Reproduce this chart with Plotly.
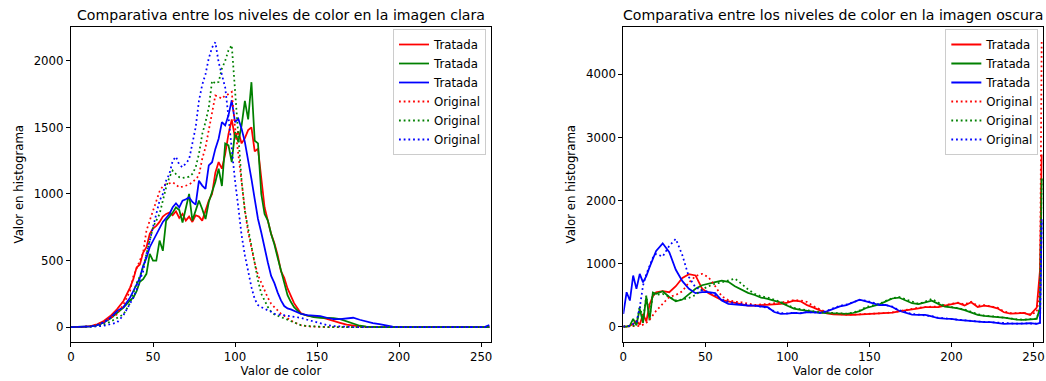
import plotly.graph_objects as go

# ---------------- data: "imagen clara" (left panel) ----------------
x_clara = ([0, 4, 8, 12, 16, 20, 24, 28, 32, 36]
           + list(range(38, 137, 2))
           + list(range(140, 253, 4))
           + [255])

clara_trat_r = ([0, 0, 2, 8, 20, 45, 83, 133, 196, 297]
                + [360, 447, 470, 560, 600, 700, 740, 760, 790, 830,
                   850, 860, 840, 870, 820, 850, 800, 830, 790, 840,
                   830, 800, 880, 950, 1000, 1160, 1240, 1190, 1300, 1450,
                   1560, 1420, 1470, 1380, 1420, 1480, 1500, 1320, 1340, 1100,
                   900, 800, 700, 630, 540, 420, 370, 290, 230, 180]
                + [105, 85, 78, 75, 62, 45, 32, 18, 10, 5, 2] + [0] * 18
                + [0])
clara_trat_g = ([0, 0, 1, 5, 15, 35, 65, 108, 146, 200]
                + [221, 270, 340, 360, 400, 550, 500, 500, 650, 573,
                   800, 830, 860, 900, 880, 786, 900, 1000, 800, 870,
                   950, 887, 812, 940, 1013, 1090, 1190, 1060, 1380, 1365,
                   1240, 1465, 1390, 1515, 1700, 1560, 1840, 1400, 1380, 1000,
                   850, 800, 700, 620, 520, 420, 320, 240, 190, 150]
                + [100, 85, 75, 70, 70, 68, 60, 42, 28, 10, 3] + [0] * 18
                + [0])
clara_trat_b = ([0, 0, 1, 5, 15, 35, 70, 120, 150, 221]
                + [270, 320, 370, 460, 520, 600, 650, 699, 750, 790,
                   820, 850, 900, 930, 900, 950, 960, 975, 940, 920,
                   1100, 1063, 1038, 1214, 1239, 1339, 1415, 1540, 1515, 1591,
                   1704, 1540, 1566, 1490, 1390, 1264, 1113, 962, 812, 711,
                   586, 485, 384, 330, 259, 200, 158, 140, 133, 120]
                + [100, 90, 85, 83, 70, 60, 60, 65, 70, 55, 40, 30, 22, 12, 3] + [0] * 14
                + [15])
clara_orig_r = ([0, 0, 2, 8, 20, 40, 65, 95, 170, 271]
                + [380, 447, 500, 560, 724, 800, 870, 950, 1020, 1060,
                   1075, 1080, 1088, 1070, 1050, 1055, 1063, 1070, 1090, 1110,
                   1140, 1264, 1350, 1480, 1630, 1740, 1730, 1716, 1741, 1750,
                   1767, 1500, 1300, 1080, 880, 711, 590, 480, 390, 330,
                   270, 220, 175, 150, 125, 100, 85, 65, 50, 35]
                + [15, 5, 2] + [0] * 26
                + [0])
clara_orig_g = ([0, 0, 0, 3, 8, 20, 40, 70, 95, 180]
                + [250, 330, 380, 450, 548, 650, 749, 800, 849, 950,
                   1050, 1126, 1176, 1150, 1126, 1120, 1126, 1130, 1151, 1200,
                   1300, 1450, 1540, 1650, 1850, 1830, 1842, 1943, 2000, 2080,
                   2118, 1750, 1400, 1100, 870, 740, 600, 460, 350, 250,
                   200, 150, 115, 95, 85, 75, 65, 55, 40, 30]
                + [15, 8, 4] + [0] * 26
                + [0])
clara_orig_b = ([0, 0, 0, 2, 5, 10, 20, 33, 90, 171]
                + [220, 280, 347, 420, 550, 650, 760, 850, 950, 1000,
                   1100, 1151, 1250, 1280, 1220, 1201, 1230, 1260, 1380, 1500,
                   1700, 1820, 1900, 2020, 2100, 2140, 1990, 1900, 1800, 1580,
                   1330, 1100, 900, 690, 540, 420, 300, 210, 165, 150,
                   135, 125, 115, 100, 95, 92, 88, 85, 83, 80]
                + [70, 55, 40, 25, 15, 8, 4] + [0] * 22
                + [0])

# ---------------- data: "imagen oscura" (right panel) ----------------
x_oscura = list(range(0, 21, 2)) + list(range(24, 253, 4)) + [254, 255]

oscura_trat_r = ([0, 0, 16, 40, 90, 30, 200, 80, 350, 480, 545]
                 + [560, 545, 640, 770, 830, 810, 600, 530, 470, 420,
                    400, 380, 360, 333, 333, 340, 344, 350, 360, 380,
                    410, 400, 340, 300, 260, 210, 195, 185, 185, 185,
                    190, 196, 198, 201, 210, 220, 240, 260, 280, 290,
                    307, 305, 310, 333, 360, 376, 335, 386, 310, 330,
                    315, 290, 227, 205, 210, 217, 185, 300]
                 + [900, 2730])
oscura_trat_g = ([0, 0, 16, 122, 20, 280, 60, 480, 100, 540, 520]
                 + [560, 470, 400, 428, 510, 600, 655, 675, 705, 730,
                    710, 640, 585, 535, 500, 460, 440, 413, 380, 330,
                    285, 265, 250, 230, 220, 215, 212, 205, 200, 215,
                    245, 295, 325, 350, 400, 445, 460, 410, 370, 355,
                    380, 410, 360, 315, 305, 290, 260, 227, 185, 170,
                    164, 150, 140, 122, 110, 106, 111, 122]
                 + [300, 2350])
oscura_trat_b = ([200, 545, 413, 809, 598, 836, 700, 800, 942, 1060, 1200]
                 + [1320, 1180, 900, 720, 600, 530, 545, 545, 530, 413,
                    360, 350, 345, 333, 333, 320, 307, 230, 201, 205,
                    217, 210, 227, 225, 217, 240, 280, 320, 340, 386,
                    428, 400, 370, 340, 344, 310, 250, 217, 190, 185,
                    185, 160, 132, 125, 122, 105, 95, 85, 79, 72,
                    69, 55, 42, 45, 42, 48, 53, 42]
                 + [60, 1700])
oscura_orig_r = ([0, 0, 0, 0, 0, 10, 30, 60, 110, 175, 250]
                 + [360, 470, 500, 560, 700, 800, 836, 780, 640, 480,
                    420, 395, 385, 360, 344, 350, 360, 365, 380, 400,
                    420, 415, 390, 320, 270, 225, 205, 195, 190, 190,
                    190, 200, 205, 205, 215, 225, 245, 265, 285, 300,
                    310, 315, 320, 340, 365, 380, 350, 395, 330, 340,
                    320, 300, 240, 215, 215, 220, 190, 230]
                 + [600, 4530])
oscura_orig_g = ([0, 0, 0, 10, 40, 330, 100, 490, 150, 518, 500]
                 + [518, 470, 415, 428, 455, 500, 590, 640, 680, 700,
                    725, 760, 680, 590, 520, 480, 460, 430, 390, 345,
                    295, 275, 255, 235, 225, 220, 215, 210, 205, 220,
                    255, 310, 340, 360, 410, 450, 470, 430, 390, 360,
                    395, 440, 380, 330, 310, 295, 270, 235, 195, 175,
                    168, 155, 142, 125, 115, 110, 115, 125]
                 + [300, 2380])
oscura_orig_b = ([0, 0, 10, 40, 69, 300, 650, 830, 960, 1090, 1150]
                 + [1110, 1280, 1390, 1130, 783, 620, 575, 550, 500, 430,
                    390, 370, 360, 340, 333, 315, 300, 240, 215, 210,
                    220, 215, 230, 225, 220, 250, 290, 330, 350, 390,
                    420, 410, 380, 350, 340, 315, 260, 225, 200, 190,
                    180, 165, 140, 128, 120, 110, 98, 88, 80, 75,
                    68, 58, 48, 45, 45, 50, 50, 45]
                 + [60, 1690])

labels = ["Tratada", "Tratada", "Tratada", "Original", "Original", "Original"]
colors = ["#ff0000", "#008000", "#0000ff", "#ff0000", "#008000", "#0000ff"]
dashes = ["solid", "solid", "solid", "1.8px,2.9px", "1.8px,2.9px", "1.8px,2.9px"]

titles = ["Comparativa entre los niveles de color en la imagen clara",
          "Comparativa entre los niveles de color en la imagen oscura"]
x_title = "Valor de color"
y_title = "Valor en histograma"

FONT = "DejaVu Sans"
FS = 11.75
W, H = 1046, 381
LW = 1.76

fig = go.Figure()

left_series = [clara_trat_r, clara_trat_g, clara_trat_b,
               clara_orig_r, clara_orig_g, clara_orig_b]
right_series = [oscura_trat_r, oscura_trat_g, oscura_trat_b,
                oscura_orig_r, oscura_orig_g, oscura_orig_b]

for ys, lab, col, dsh in zip(left_series, labels, colors, dashes):
    fig.add_trace(go.Scatter(x=x_clara, y=ys, mode="lines", name=lab,
                             line=dict(color=col, width=LW, dash=dsh),
                             xaxis="x", yaxis="y", legend="legend"))
for ys, lab, col, dsh in zip(right_series, labels, colors, dashes):
    fig.add_trace(go.Scatter(x=x_oscura, y=ys, mode="lines", name=lab,
                             line=dict(color=col, width=LW, dash=dsh),
                             xaxis="x2", yaxis="y2", legend="legend2"))

ydom = [1 - 341.7 / H, 1 - 26.7 / H]
xdom1 = [67.3 / W, 489.3 / W]
xdom2 = [622.3 / W, 1044.3 / W]

axis_common = dict(showline=True, mirror=True, linecolor="black", linewidth=0.94,
                   ticks="outside", ticklen=4.1, tickwidth=0.94, tickcolor="black",
                   showgrid=False, zeroline=False,
                   tickfont=dict(family=FONT, size=FS, color="black"))
title_font = dict(family=FONT, size=FS, color="black")

fig.update_layout(
    width=W, height=H,
    margin=dict(l=0, r=0, t=0, b=0),
    paper_bgcolor="white", plot_bgcolor="white",
    font=dict(family=FONT, size=FS, color="black"),
    xaxis=dict(domain=xdom1, range=[0, 256], anchor="y",
               tickvals=[0, 50, 100, 150, 200, 250],
               title=dict(text=x_title, font=title_font, standoff=3),
               **axis_common),
    yaxis=dict(domain=ydom, range=[-110, 2257], anchor="x",
               tickvals=[0, 500, 1000, 1500, 2000],
               title=dict(text=y_title, font=title_font, standoff=7),
               **axis_common),
    xaxis2=dict(domain=xdom2, range=[0, 256], anchor="y2",
                tickvals=[0, 50, 100, 150, 200, 250],
                title=dict(text=x_title, font=title_font, standoff=3),
                **axis_common),
    yaxis2=dict(domain=ydom, range=[-240, 4755], anchor="x2",
                tickvals=[0, 1000, 2000, 3000, 4000],
                title=dict(text=y_title, font=title_font, standoff=7),
                **axis_common),
    legend=dict(x=484.3 / W, y=1 - 29 / H, xanchor="right", yanchor="top",
                bgcolor="rgba(255,255,255,0.8)", bordercolor="#cccccc", borderwidth=1,
                font=dict(family=FONT, size=FS, color="black"), tracegroupgap=0),
    legend2=dict(x=1039.3 / W, y=1 - 29 / H, xanchor="right", yanchor="top",
                 bgcolor="rgba(255,255,255,0.8)", bordercolor="#cccccc", borderwidth=1,
                 font=dict(family=FONT, size=FS, color="black"), tracegroupgap=0),
    annotations=[
        dict(text=titles[0], x=0.5, xref="x domain", y=1, yref="y domain",
             xanchor="center", yanchor="bottom", yshift=2, showarrow=False,
             font=dict(family=FONT, size=14.1, color="black")),
        dict(text=titles[1], x=0.5, xref="x2 domain", y=1, yref="y2 domain",
             xanchor="center", yanchor="bottom", yshift=2, showarrow=False,
             font=dict(family=FONT, size=14.1, color="black")),
    ],
)

fig.write_html("out.html")
